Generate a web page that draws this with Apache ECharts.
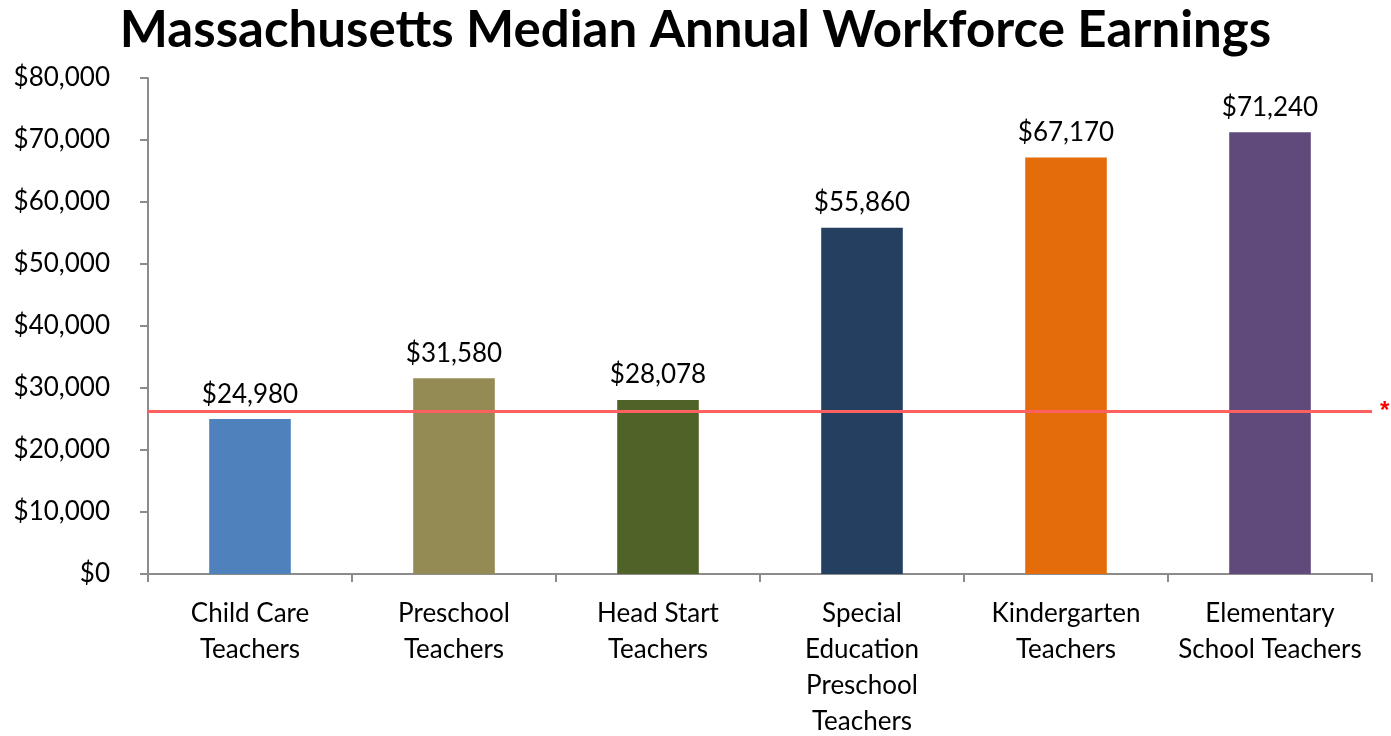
<!DOCTYPE html>
<html>
<head>
<meta charset="utf-8">
<script src="https://cdn.jsdelivr.net/npm/echarts@6/dist/echarts.min.js"></script>
<style>
  html, body { margin: 0; padding: 0; background: #fff; }
  #chart { width: 1391px; height: 736px; }
</style>
</head>
<body>
<div id="chart"></div>
<script>
// categories and values
const categories = [
  'Child Care\nTeachers',
  'Preschool\nTeachers',
  'Head Start\nTeachers',
  'Special\nEducation\nPreschool\nTeachers',
  'Kindergarten\nTeachers',
  'Elementary\nSchool Teachers'
];
const earnings = [24980, 31580, 28078, 55860, 67170, 71240];
const barColors = ['#4F81BD', '#948A54', '#4F6228', '#243F60', '#E46C0A', '#604A7B'];
const referenceLine = 26300;

const FONT = 'Lato';

const chart = echarts.init(document.getElementById('chart'));

const option = {
  animation: false,
  title: {
    text: 'Massachusetts Median Annual Workforce Earnings',
    left: 'center',
    top: 0,
    textStyle: {
      fontFamily: FONT,
      fontSize: 51,
      fontWeight: 'bold',
      color: '#000'
    }
  },
  grid: {
    left: 148,
    right: 19,
    top: 78,
    bottom: 162,
    outerBoundsMode: 'none'
  },
  xAxis: {
    type: 'category',
    data: categories,
    axisLine: { lineStyle: { color: '#8c8c8c', width: 2 } },
    axisTick: { show: true, length: 8, lineStyle: { color: '#8c8c8c', width: 2 } },
    axisLabel: {
      fontFamily: FONT,
      fontSize: 26,
      color: '#000',
      lineHeight: 36,
      margin: 22,
      interval: 0
    }
  },
  yAxis: {
    type: 'value',
    min: 0,
    max: 80000,
    interval: 10000,
    axisLine: { show: true, lineStyle: { color: '#8c8c8c', width: 2 } },
    axisTick: { show: true, length: 8, lineStyle: { color: '#8c8c8c', width: 2 } },
    splitLine: { show: false },
    axisLabel: {
      fontFamily: FONT,
      fontSize: 26,
      color: '#000',
      margin: 38,
      formatter: (v) => '$' + v.toLocaleString('en-US')
    }
  },
  series: [
    {
      type: 'bar',
      data: earnings.map((v, i) => ({ value: v, itemStyle: { color: barColors[i] } })),
      barWidth: '40%',
      label: {
        show: true,
        position: 'top',
        distance: 12,
        fontFamily: FONT,
        fontSize: 26,
        color: '#000',
        formatter: (p) => '$' + p.value.toLocaleString('en-US')
      },
      markLine: {
        silent: true,
        symbol: 'none',
        lineStyle: { color: '#FF6060', width: 3, type: 'solid' },
        label: {
          show: true,
          position: 'end',
          formatter: '*',
          color: '#FF0000',
          fontSize: 24,
          fontWeight: 'bold',
          distance: 8
        },
        data: [{ yAxis: referenceLine }]
      }
    }
  ]
};

chart.setOption(option);
</script>
</body>
</html>
